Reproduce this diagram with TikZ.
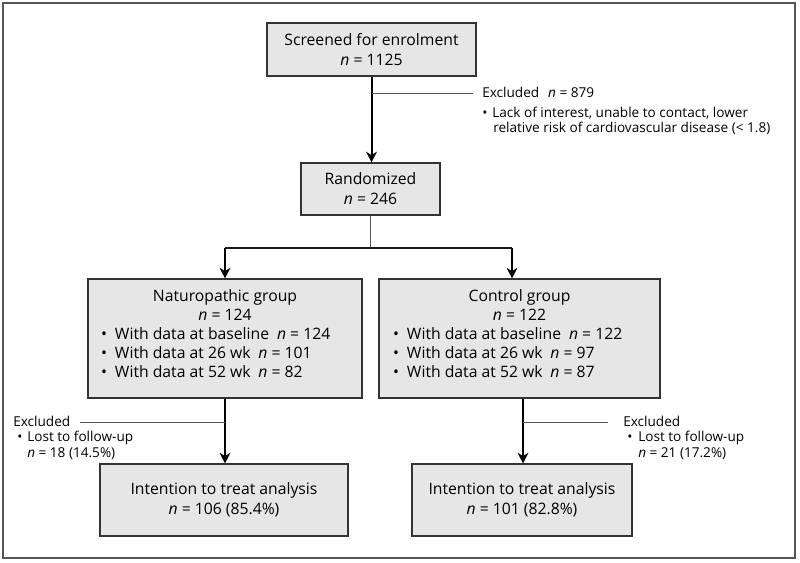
\documentclass[tikz,border=0pt]{standalone}
\usepackage{fontspec}
\setmainfont{Open Sans}
\usetikzlibrary{arrows.meta}
\newdimen\pxu \pxu=0.75pt
\definecolor{boxfill}{HTML}{E6E6E6}
\definecolor{framecol}{HTML}{555555}
\definecolor{thincol}{HTML}{555555}
\newcommand\bigf{\fontsize{11.8}{15}\selectfont}
\newcommand\grpf{\fontsize{11.8}{14.25}\selectfont}
\newcommand\smallf{\fontsize{10.2}{11.4}\selectfont}
\newcommand\gb{\makebox[15\pxu][l]{\hspace*{1\pxu}•}}
\begin{document}
\begin{tikzpicture}[x=0.75pt,y=-0.75pt,
  box/.style={draw=black!80, line width=0.8pt, fill=boxfill, inner sep=0pt, align=center, font=\bigf},
  wh/.style 2 args={minimum width=#1*0.75pt, minimum height=#2*0.75pt},
  thickarrow/.style={line width=1.5pt, -{Stealth[length=8pt,width=8pt,inset=2.5pt]}},
  thinline/.style={draw=thincol, line width=0.75pt},
  hline/.style={draw=black!90, line width=1.1pt},
  note/.style={inner sep=0pt, anchor=base west, font=\smallf}
]
\useasboundingbox (0,0) rectangle (800,562);
\draw[framecol, line width=1pt] (3,3) rectangle (795,558);

\node[box, wh={209}{53}] (scr) at (371.5,49.5) {Screened for enrolment\\ \textit{n} = 1125};
\node[box, wh={139}{52}] (rnd) at (370.5,189) {Randomized\\ \textit{n} = 246};
\node[box, wh={274}{119}, font=\grpf] (nat) at (225,338.5) {Naturopathic group\\ \textit{n} = 124\\
  \makebox[250\pxu][l]{\gb With data at baseline\enspace\textit{n} = 124}\\
  \makebox[250\pxu][l]{\gb With data at 26 wk\enspace\textit{n} = 101}\\
  \makebox[250\pxu][l]{\gb With data at 52 wk\enspace\textit{n} = 82\rule[-9\pxu]{0pt}{0pt}}};
\node[box, wh={281}{119}, font=\grpf] (ctl) at (519.5,338.5) {Control group\\ \textit{n} = 122\\
  \makebox[255\pxu][l]{\gb With data at baseline\enspace\textit{n} = 122}\\
  \makebox[255\pxu][l]{\gb With data at 26 wk\enspace\textit{n} = 97}\\
  \makebox[255\pxu][l]{\gb With data at 52 wk\enspace\textit{n} = 87\rule[-9\pxu]{0pt}{0pt}}};
\node[box, wh={248}{72}] (itl) at (224,500) {Intention to treat analysis\\ \textit{n} = 106 (85.4\%)};
\node[box, wh={220}{72}] (itr) at (522,500) {Intention to treat analysis\\ \textit{n} = 101 (82.8\%)};

% screened -> randomized
\draw[thickarrow] (scr.south) -- (scr.south |- rnd.north);
\coordinate (ex1) at (473,93);
\draw[thinline] (scr.south |- ex1) -- (ex1);
\node[note] (ext) at (482,97) {\begin{tabular}[t]{@{}l@{}}Excluded\hspace*{9\pxu}\textit{n} = 879\\[5\pxu]
  \makebox[10\pxu][l]{•}Lack of interest, unable to contact, lower\\
  \hspace*{11\pxu}relative risk of cardiovascular disease (< 1.8)\end{tabular}};

% randomized -> groups
\coordinate (sl) at (225,248);
\coordinate (sr) at (512,248);
\draw[thinline] (rnd.south) -- (rnd.south |- sl);
\draw[hline] (sl) -- (sr);
\draw[thickarrow] (sl) -- (nat.north);
\draw[thickarrow] (sr) -- (sr |- ctl.north);

% groups -> analysis
\coordinate (rx) at (523,0);
\draw[thickarrow] (nat.south) -- (nat.south |- itl.north);
\draw[thickarrow] (ctl.south -| rx) -- (itr.north -| rx);

\coordinate (exl) at (80,422);
\draw[thinline] (exl) -- (nat.south |- exl);
\node[note] (exlt) at (13,426) {\begin{tabular}[t]{@{}l@{}}Excluded\\[0.5\pxu]
  \hspace*{4\pxu}\makebox[10\pxu][l]{•}Lost to follow-up\\[0.5\pxu]
  \hspace*{14\pxu}\textit{n} = 18 (14.5\%)\end{tabular}};

\coordinate (exr) at (608,422);
\draw[thinline] (rx |- exr) -- (exr);
\node[note] (exrt) at (623,426) {\begin{tabular}[t]{@{}l@{}}Excluded\\[0.5\pxu]
  \hspace*{4\pxu}\makebox[11\pxu][l]{•}Lost to follow-up\\[0.5\pxu]
  \hspace*{15\pxu}\textit{n} = 21 (17.2\%)\end{tabular}};
\end{tikzpicture}
\end{document}
